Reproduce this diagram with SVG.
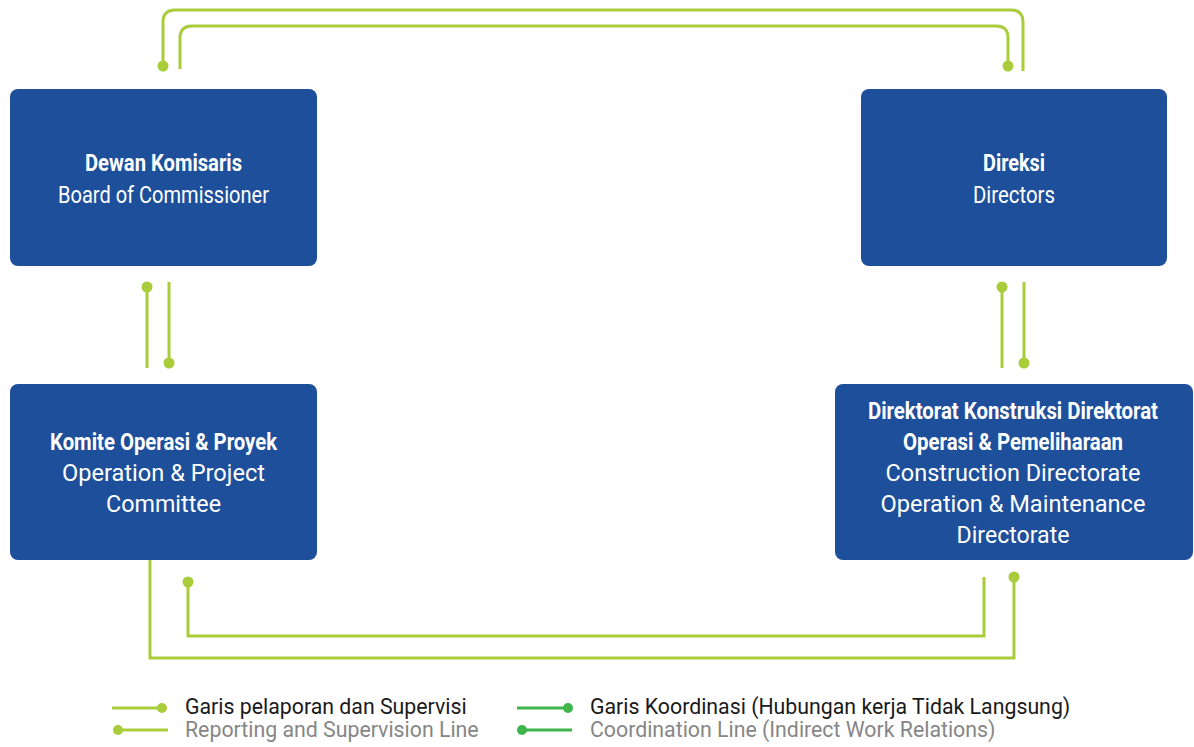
<svg xmlns="http://www.w3.org/2000/svg" width="1194" height="747" viewBox="0 0 1194 747">
<style>
.box{fill:#1d4f9b}
.t{font-family:Roboto,"Liberation Sans",sans-serif;font-size:24.5px;fill:#ffffff;text-anchor:middle}
.b{font-weight:bold;font-size:23px}
.ln{fill:none;stroke:#a9cc3a;stroke-width:3}
.dot{fill:#a9cc3a}
.lg{fill:none;stroke:#3fb54a;stroke-width:3}
.dg{fill:#3fb54a}
.leg{font-family:Roboto,"Liberation Sans",sans-serif;font-size:21.3px}
.l1{fill:#1a1a1a}
.l2{fill:#868686}
</style>
<rect width="1194" height="747" fill="#ffffff"/>
<g id="connectors">
<path class="ln" d="M163,66 V22 Q163,10 175,10 H1011 Q1023,10 1023,22 V71"/>
<circle class="dot" cx="163" cy="66" r="5.5"/>
<path class="ln" d="M180,69 V38 Q180,26 192,26 H996 Q1008,26 1008,38 V66"/>
<circle class="dot" cx="1008" cy="66" r="5.5"/>
<path class="ln" d="M147,287 V368"/>
<circle class="dot" cx="147" cy="287" r="5.5"/>
<path class="ln" d="M169,282 V363"/>
<circle class="dot" cx="169" cy="363" r="5.5"/>
<path class="ln" d="M1002,287 V368"/>
<circle class="dot" cx="1002" cy="287" r="5.5"/>
<path class="ln" d="M1024,282 V363"/>
<circle class="dot" cx="1024" cy="363" r="5.5"/>
<path class="ln" d="M150,560 V658 H1014 V577"/>
<circle class="dot" cx="1014" cy="577" r="5.5"/>
<path class="ln" d="M188,582 V636 H984 V577"/>
<circle class="dot" cx="188" cy="582" r="5.5"/>
</g>
<g id="dewan-komisaris">
<rect class="box" x="10" y="89" width="307" height="177" rx="8"/>
<text class="t b" x="163.5" y="171" textLength="157" lengthAdjust="spacingAndGlyphs">Dewan Komisaris</text>
<text class="t" x="163.5" y="203" textLength="211" lengthAdjust="spacingAndGlyphs">Board of Commissioner</text>
</g>
<g id="direksi">
<rect class="box" x="861" y="89" width="306" height="177" rx="8"/>
<text class="t b" x="1014" y="171" textLength="62" lengthAdjust="spacingAndGlyphs">Direksi</text>
<text class="t" x="1014" y="203" textLength="82" lengthAdjust="spacingAndGlyphs">Directors</text>
</g>
<g id="komite">
<rect class="box" x="10" y="384" width="307" height="176" rx="8"/>
<text class="t b" x="163.5" y="450" textLength="227" lengthAdjust="spacingAndGlyphs">Komite Operasi &amp; Proyek</text>
<text class="t" x="163.5" y="481" textLength="203" lengthAdjust="spacingAndGlyphs">Operation &amp; Project</text>
<text class="t" x="163.5" y="512" textLength="115" lengthAdjust="spacingAndGlyphs">Committee</text>
</g>
<g id="direktorat">
<rect class="box" x="835" y="384" width="358" height="176" rx="8"/>
<text class="t b" x="1013" y="419" textLength="290" lengthAdjust="spacingAndGlyphs">Direktorat Konstruksi Direktorat</text>
<text class="t b" x="1013" y="450" textLength="220" lengthAdjust="spacingAndGlyphs">Operasi &amp; Pemeliharaan</text>
<text class="t" x="1013" y="481" textLength="255" lengthAdjust="spacingAndGlyphs">Construction Directorate</text>
<text class="t" x="1013" y="512" textLength="265" lengthAdjust="spacingAndGlyphs">Operation &amp; Maintenance</text>
<text class="t" x="1013" y="543" textLength="113" lengthAdjust="spacingAndGlyphs">Directorate</text>
</g>
<g id="legend">
<path class="ln" d="M112,708 H162"/>
<circle class="dot" cx="162" cy="708" r="5"/>
<path class="ln" d="M118,730 H168"/>
<circle class="dot" cx="118" cy="730" r="5"/>
<text class="leg l1" x="185" y="714">Garis pelaporan dan Supervisi</text>
<text class="leg l2" x="185" y="737">Reporting and Supervision Line</text>
<path class="lg" d="M517,708 H568"/>
<circle class="dg" cx="568" cy="708" r="5"/>
<path class="lg" d="M522,730 H572"/>
<circle class="dg" cx="522" cy="730" r="5"/>
<text class="leg l1" x="590" y="714">Garis Koordinasi (Hubungan kerja Tidak Langsung)</text>
<text class="leg l2" x="590" y="737">Coordination Line (Indirect Work Relations)</text>
</g>
</svg>
